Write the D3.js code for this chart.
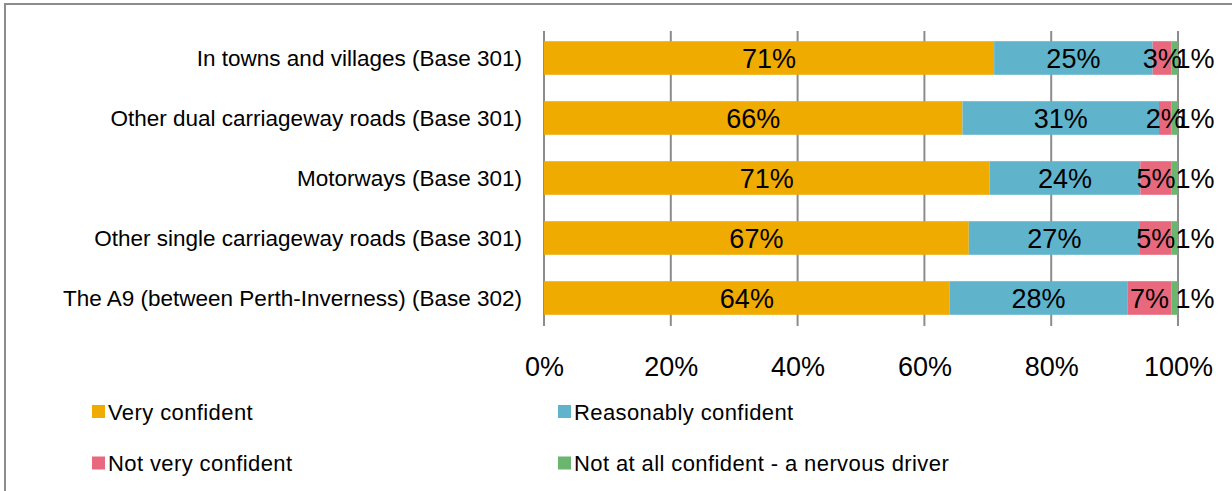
<!DOCTYPE html>
<html><head><meta charset="utf-8">
<script src="https://cdn.jsdelivr.net/npm/d3@7"></script>
<style>
html,body{margin:0;padding:0;background:#fff;}
text{font-family:"Liberation Sans",Arial,sans-serif;fill:#000;}
</style></head>
<body>
<svg id="chart" width="1232" height="491"></svg>
<script>
const categories = [
  "In towns and villages (Base 301)",
  "Other dual carriageway roads (Base 301)",
  "Motorways (Base 301)",
  "Other single carriageway roads (Base 301)",
  "The A9 (between Perth-Inverness) (Base 302)"
];
const seriesNames = ["Very confident","Reasonably confident","Not very confident","Not at all confident - a nervous driver"];
const veryConfident = [71, 66, 71, 67, 64];
const reasonablyConfident = [25, 31, 24, 27, 28];
const notVeryConfident = [3, 2, 5, 5, 7];
const notAtAllConfident = [1, 1, 1, 1, 1];
const tickValues = [0, 0.2, 0.4, 0.6, 0.8, 1];
const colors = ["#F0AB00", "#5FB4CC", "#E8697D", "#6BB66E"];

const svg = d3.select("#chart");
const W = 1232, H = 491;

// frame
svg.append("path").attr("d", `M5,${H} V4 H${W}`).attr("fill","none").attr("stroke","#8c8c8c").attr("stroke-width",2);

const rows = categories.map((c,i)=>{
  const vals = [veryConfident[i], reasonablyConfident[i], notVeryConfident[i], notAtAllConfident[i]];
  const tot = d3.sum(vals);
  let acc = 0;
  return {cat:c, segs: vals.map((v,k)=>{ const s={k, v, x0:acc/tot, x1:(acc+v)/tot}; acc+=v; return s; })};
});

const x = d3.scaleLinear().domain([0,1]).range([544,1178]);
const y = d3.scaleBand().domain(categories).range([28,328]).paddingInner(0.44).paddingOuter(0.22);

// gridlines
svg.append("g").selectAll("line").data(tickValues).join("line")
  .attr("x1",d=>x(d)).attr("x2",d=>x(d)).attr("y1",31).attr("y2",326)
  .attr("stroke","#8c8c8c").attr("stroke-width",2);

// bars
const g = svg.append("g");
rows.forEach(r=>{
  g.selectAll(null).data(r.segs).join("rect")
    .attr("x",d=>x(d.x0)).attr("width",d=>x(d.x1)-x(d.x0))
    .attr("y",y(r.cat)).attr("height",y.bandwidth())
    .attr("fill",d=>colors[d.k]);
});
// bar labels
rows.forEach(r=>{
  g.selectAll(null).data(r.segs).join("text")
    .attr("x",d=> d.k===3 ? x(d.x1)+17 : (x(d.x0)+x(d.x1))/2)
    .attr("y",y(r.cat)+y.bandwidth()/2+9.5)
    .attr("text-anchor","middle").attr("font-size",27)
    .text(d=>d.v+"%");
});

// category labels
svg.append("g").selectAll("text").data(categories).join("text")
  .attr("x",522).attr("y",d=>y(d)+y.bandwidth()/2+7.5)
  .attr("text-anchor","end").attr("font-size",22.5)
  .text(d=>d);

// x tick labels
const xa = svg.append("g").attr("transform","translate(0,367)")
  .call(d3.axisBottom(x).tickValues(tickValues).tickFormat(d3.format(".0%")).tickSize(0).tickPadding(0));
xa.select(".domain").remove();
xa.selectAll("text").attr("font-size",27).attr("dy","0.35em").attr("fill","#000")
  .style("font-family",'"Liberation Sans",Arial,sans-serif');

// legend
const legPos = [[92,411.5],[558,411.5],[92,463],[558,463]];
const lg = svg.append("g").selectAll("g").data(seriesNames).join("g")
  .attr("transform",(d,i)=>`translate(${legPos[i][0]},${legPos[i][1]})`);
lg.append("rect").attr("x",0).attr("y",-6.5).attr("width",13).attr("height",13).attr("fill",(d,i)=>colors[i]);
lg.append("text").attr("x",16).attr("y",8).attr("font-size",22).style("letter-spacing","0.4px").text(d=>d);
</script>
</body></html>
